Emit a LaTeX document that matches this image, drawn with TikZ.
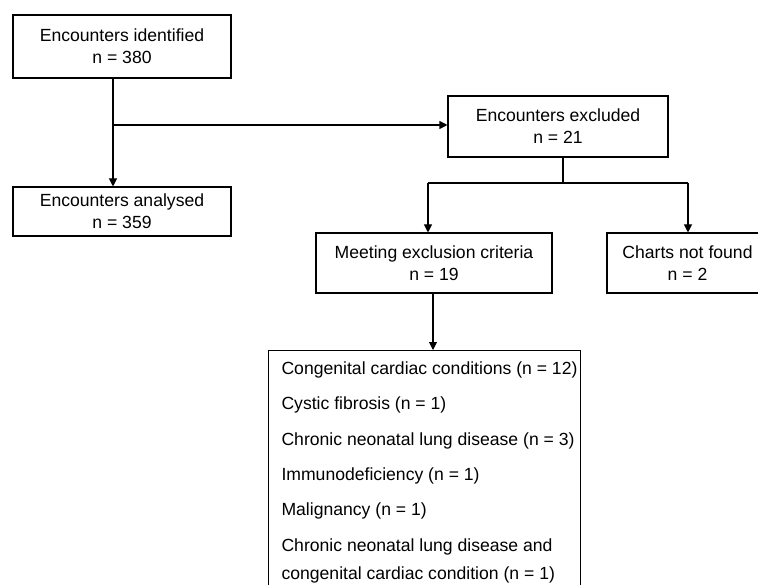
\documentclass[tikz,border=0pt]{standalone}
\usepackage{fontspec}
\setmainfont{Liberation Sans}
\usepackage{tikz}
\usetikzlibrary{positioning,arrows.meta}

\begin{document}
\begin{tikzpicture}[x=0.75pt,y=-0.75pt,line width=0.8pt,
    font=\fontsize{13.2}{16.5}\selectfont,
    >={Triangle[width=6pt,length=6pt]},
    flowbox/.style={draw,align=center,inner sep=0pt}]
  \clip (0,0) rectangle (758,585);
  % boxes
  \node[flowbox,minimum width=163.5pt,minimum height=47.25pt] (ident) at (122,46.5)
    {Encounters identified\\n = 380};
  \node[flowbox,minimum width=163.5pt,minimum height=36.75pt] (anal) at (122,211.5)
    {Encounters analysed\\n = 359};
  \node[flowbox,minimum width=165pt,minimum height=45.75pt] (excl) at (558,126.5)
    {Encounters excluded\\n = 21};
  \node[flowbox,minimum width=177pt,minimum height=45pt] (crit) at (434,263)
    {Meeting exclusion criteria\\n = 19};
  \node[flowbox,minimum width=120.75pt,minimum height=45pt] (notfound) at (687.5,263)
    {Charts not found\\n = 2};
  \node[draw,anchor=north west,inner sep=0pt,minimum width=234pt,
        minimum height=200pt] (conds) at (268,350) {};
  \node[anchor=north west,align=left,inner sep=0pt,
        font=\fontsize{13.2}{21}\selectfont] (condlist)
    at ([xshift=9.75pt,yshift=-8.5pt]conds.north west)
    {Congenital cardiac conditions (n = 12)\\[5.5pt]
     Cystic fibrosis (n = 1)\\[5.5pt]
     Chronic neonatal lung disease (n = 3)\\[5.5pt]
     Immunodeficiency (n = 1)\\[5.5pt]
     Malignancy (n = 1)\\[5.5pt]
     Chronic neonatal lung disease and\\
     congenital cardiac condition (n = 1)};
  % connectors
  \coordinate (split) at (113,125);
  \coordinate (exsplit) at (563,183);
  \coordinate (bl) at (428,183);
  \coordinate (br) at (688,183);
  \draw[->] (ident.south -| split) -- (anal.north -| split);
  \draw[->] (split) -- (split -| excl.west);
  \draw (excl.south -| exsplit) -- (exsplit);
  \draw (bl) -- (br);
  \draw[->] (bl) -- (crit.north -| bl);
  \draw[->] (br) -- (notfound.north -| br);
  \draw[->] (crit.south -| 433,0) -- (conds.north -| 433,0);
\end{tikzpicture}
\end{document}
